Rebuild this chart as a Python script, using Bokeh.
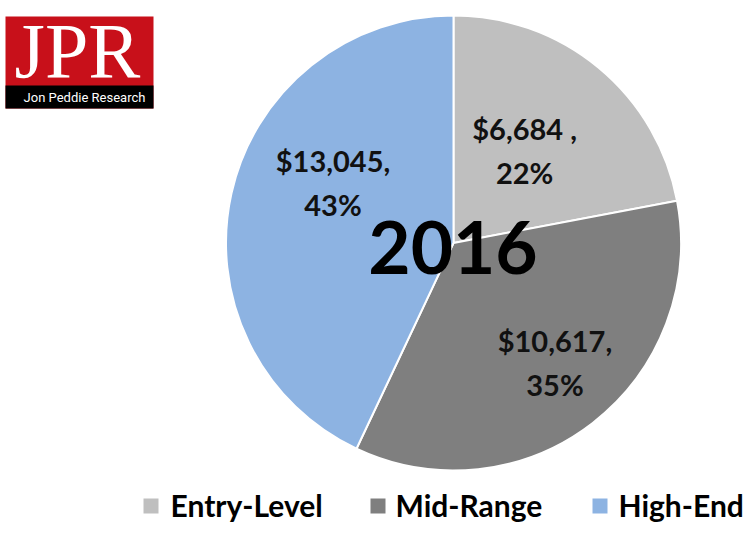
import math
from bokeh.plotting import figure
from bokeh.models import Range1d
from bokeh.core.properties import value
from bokeh.embed import file_html
from bokeh.resources import INLINE

# ---------------- data ----------------
categories = ["Entry-Level", "Mid-Range", "High-End"]
revenue = [6684, 10617, 13045]          # $ millions
percent_labels = ["22%", "35%", "43%"]
value_labels = ["$6,684 ,", "$10,617,", "$13,045,"]
colors = ["#bfbfbf", "#7f7f7f", "#8db3e2"]
year_label = "2016"

# ---------------- layout ----------------
W, H = 751, 533
def px(X):  # page x -> data x
    return X
def py(Y):  # page y -> data y
    return H - Y

cx, cy, R = px(453), py(242.5), 227.5
label_r = [0.513, 0.689, 0.592]
label_tweak_deg = [-2.1, -2.6, 13.9]
legend_sq_x = [150.5, 377.5, 599.5]
legend_tx_x = [170, 395, 618]

p = figure(width=W, height=H, output_backend="svg", toolbar_location=None,
           x_range=Range1d(0, W), y_range=Range1d(0, H), min_border=0,
           tools="")
p.axis.visible = False
p.xgrid.visible = False
p.ygrid.visible = False
p.outline_line_color = None
p.background_fill_color = "white"
p.border_fill_color = "white"

total = sum(revenue)
cum = 0.0
starts, ends, mids = [], [], []
for v in revenue:
    f0 = cum / total
    cum += v
    f1 = cum / total
    starts.append(math.pi / 2 - 2 * math.pi * f0)
    ends.append(math.pi / 2 - 2 * math.pi * f1)
    mids.append((f0 + f1) / 2 * 360.0)

p.wedge(x=[cx] * 3, y=[cy] * 3, radius=R, start_angle=starts, end_angle=ends,
        direction="clock", fill_color=colors, line_color="white", line_width=2)

# slice labels
for i in range(3):
    a = math.radians(mids[i] + label_tweak_deg[i])   # clockwise from top
    r = label_r[i] * R
    lx = cx + r * math.sin(a)
    ly = cy + r * math.cos(a)
    for txt, off in ((value_labels[i], 22), (percent_labels[i], -22)):
        p.text(x=[lx], y=[ly + off], text=[txt], text_align="center",
               text_baseline="middle", text_font=value("Lato"),
               text_font_style="bold", text_font_size="29px", text_color="#111111")

# year in the middle
p.text(x=[px(452.5)], y=[py(246.5)], text=[year_label], text_align="center",
       text_baseline="middle", text_font=value("Lato"), text_font_style="bold",
       text_font_size="73px", text_color="black")

# legend
for i in range(3):
    p.rect(x=[px(legend_sq_x[i])], y=[py(505.5)], width=15, height=15,
           fill_color=colors[i], line_color=None)
    p.text(x=[px(legend_tx_x[i])], y=[py(504)], text=[categories[i]], text_align="left",
           text_baseline="middle", text_font=value("Lato"), text_font_style="bold",
           text_font_size="30px", text_color="black")

# JPR logo
p.quad(left=[px(5)], right=[px(153)], top=[py(16)], bottom=[py(108)],
       fill_color="#c8101a", line_color=None)
p.quad(left=[px(5)], right=[px(153)], top=[py(85)], bottom=[py(108)],
       fill_color="black", line_color=None)
p.text(x=[px(77)], y=[py(50)], text=["JPR"], text_align="center",
       text_baseline="middle", text_font=value("Liberation Serif"),
       text_font_size="78px", text_color="white")
p.text(x=[px(84)], y=[py(97)], text=["Jon Peddie Research"], text_align="center",
       text_baseline="middle", text_font=value("Roboto"),
       text_font_size="13px", text_color="white")

open("out.html", "w").write(file_html(p, INLINE))
